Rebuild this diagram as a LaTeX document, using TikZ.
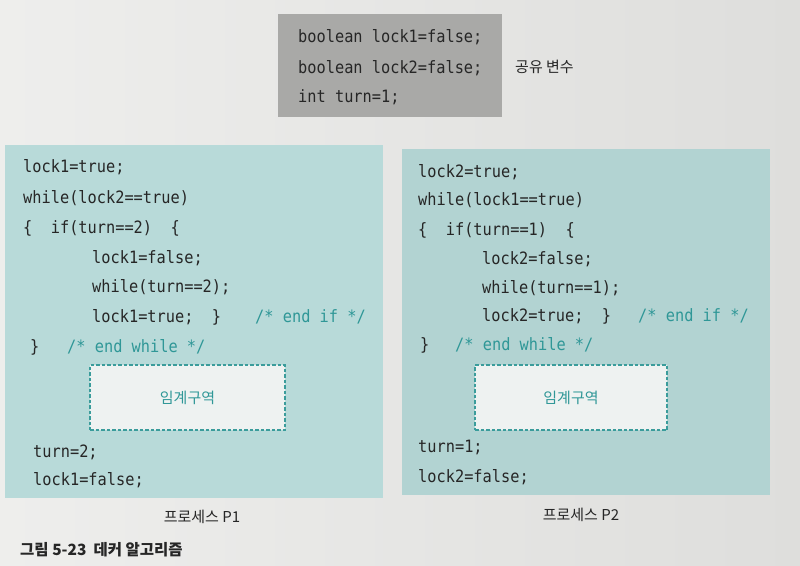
\documentclass[tikz,border=0pt]{standalone}
\usepackage{fontspec}
\newfontfamily\codefont{DejaVu Sans Mono}[FakeStretch=0.9]
\newfontfamily\krfont{Noto Sans CJK KR}
\definecolor{pagebg}{HTML}{EBEBE9}
\definecolor{pagebgdark}{HTML}{DEDEDC}
\definecolor{sharedgray}{HTML}{A9A9A7}
\definecolor{procteal}{HTML}{B8DAD9}
\definecolor{critfill}{HTML}{EEF2F1}
\definecolor{tealline}{HTML}{3A9C9B}
\definecolor{tealtext}{HTML}{2F9797}
\definecolor{inkcol}{HTML}{262626}
\begin{document}
\begin{tikzpicture}[x=1pt,y=-1pt,
  code/.style={anchor=mid west, inner sep=0pt, yshift=-3pt, text=inkcol, font={\codefont\fontsize{17}{19}\selectfont}},
  cmt/.style={code, text=tealtext},
  kr/.style={inner sep=0pt, text=inkcol, font={\krfont\fontsize{15}{17}\selectfont}},
  panel/.style={anchor=north west, inner sep=0pt, draw=none},
  critbox/.style={draw=tealline, line width=1.6pt, dash pattern=on 3.5pt off 2pt, fill=critfill, inner sep=0pt, text=tealtext, font={\krfont\fontsize{15}{17}\selectfont}}
]
\useasboundingbox (0,0) rectangle (800,565);
\shade[left color=pagebg!85!white, right color=pagebgdark] (0,0) rectangle (800,565);

% shared variables
\node[panel, fill=sharedgray, minimum width=224pt, minimum height=103pt] (shared) at (278,14) {};
\node[code] (s1) at (298,37) {boolean lock1=false;};
\node[code] (s2) at (298,68) {boolean lock2=false;};
\node[code] (s3) at (298,97) {int turn=1;};
\node[kr, anchor=mid west] (sharedlbl) at (515,70) {공유 변수};

% process P1
\node[panel, fill=procteal, minimum width=378pt, minimum height=353pt] (p1) at (5,145) {};
\node[code] (a1) at (23,167) {lock1=true;};
\node[code] (a2) at (23,198) {while(lock2==true)};
\node[code] (a3) at (23,228) {\{\ \ if(turn==2)\ \ \{};
\node[code] (a4) at (92,258) {lock1=false;};
\node[code] (a5) at (92,287) {while(turn==2);};
\node[code] (a6) at (92,317) {lock1=true;\ \ \}};
\node[cmt] (a6c) at (255,317) {/* end if */};
\node[code] (a7) at (30,347) {\}};
\node[cmt] (a7c) at (67,347) {/* end while */};
\node[critbox, minimum width=195pt, minimum height=65pt] (cs1) at (187.5,397.5) {임계구역};
\node[code] (a8) at (33,452) {turn=2;};
\node[code] (a9) at (33,480) {lock1=false;};
\node[kr] (p1lbl) at (202,517) {프로세스 P1};

% process P2
\node[panel, fill=procteal!97!black, minimum width=368pt, minimum height=346pt] (p2) at (402,149) {};
\node[code] (b1) at (418,172) {lock2=true;};
\node[code] (b2) at (418,200) {while(lock1==true)};
\node[code] (b3) at (418,230) {\{\ \ if(turn==1)\ \ \{};
\node[code] (b4) at (482,259) {lock2=false;};
\node[code] (b5) at (482,288) {while(turn==1);};
\node[code] (b6) at (482,316) {lock2=true;\ \ \}};
\node[cmt] (b6c) at (638,316) {/* end if */};
\node[code] (b7) at (420,345) {\}};
\node[cmt] (b7c) at (455,345) {/* end while */};
\node[critbox, minimum width=192pt, minimum height=65pt] (cs2) at (571,397.5) {임계구역};
\node[code] (b8) at (418,447) {turn=1;};
\node[code] (b9) at (418,477) {lock2=false;};
\node[kr] (p2lbl) at (581,515) {프로세스 P2};

% caption
\node[kr, anchor=mid west, font={\krfont\fontsize{15.5}{17}\selectfont\bfseries}] (caption) at (20,553) {그림 5-23\ \ 데커 알고리즘};
\end{tikzpicture}
\end{document}
